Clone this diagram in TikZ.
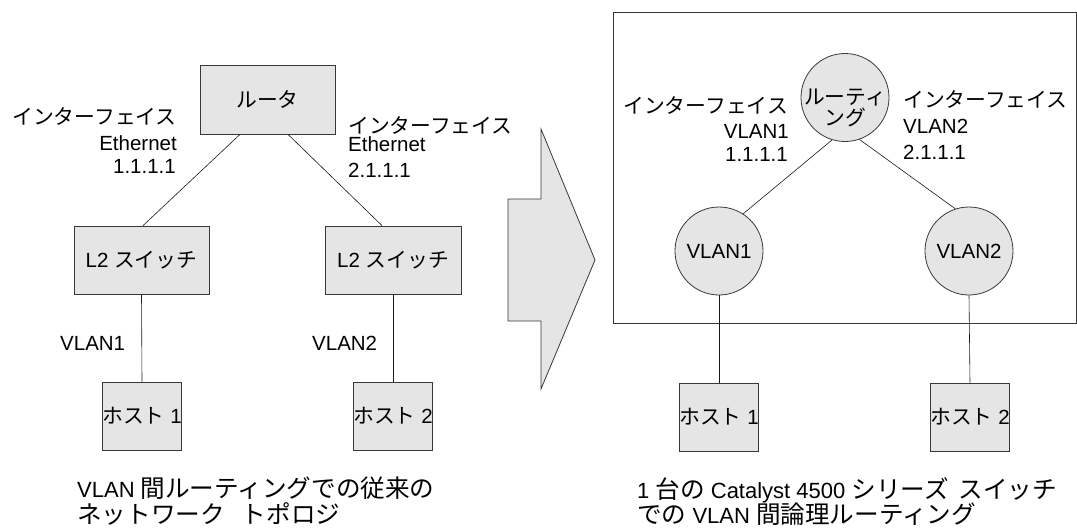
\documentclass[tikz,border=0pt]{standalone}
\usepackage{fontspec}
\setmainfont{Liberation Sans}
\newfontfamily\jpfam{Noto Sans CJK JP}
\newcommand{\jp}{\jpfam\fontsize{20.8}{20.5}\selectfont}
\newcommand{\jpc}{\jpfam\fontsize{24.6}{23}\selectfont}
\newcommand{\lblfont}{\fontsize{20.5}{20.5}\selectfont}
\newcommand{\capfont}{\fontsize{22}{23}\selectfont}
\begin{document}
\begin{tikzpicture}[x=1pt,y=-1pt,
  devbox/.style={draw=black!78, fill=black!10, line width=0.8pt, inner sep=0pt, font=\lblfont},
  circ/.style={circle, draw=black!78, fill=black!10, line width=0.8pt, minimum size=88pt, inner sep=0pt, font=\lblfont},
  wire/.style={draw=black!90, line width=0.6pt},
  frame/.style={draw=black!78, line width=0.8pt, inner sep=0pt},
  lbl/.style={font=\lblfont, inner sep=0pt},
  captxt/.style={font=\capfont, inner sep=0pt, anchor=base west}]
\useasboundingbox (0,0) rectangle (1077,530);

% ---------- left: conventional topology ----------
\node[devbox, minimum width=135pt, minimum height=69pt] (router) at (267.5,99.5) {\jp ルータ};
\node[devbox, minimum width=135pt, minimum height=68pt] (l2a) at (141.5,260) {L2 {\jp スイッチ}};
\node[devbox, minimum width=136pt, minimum height=68pt] (l2b) at (393,260) {L2 {\jp スイッチ}};
\node[devbox, minimum width=78pt, minimum height=68pt] (h1) at (142,416) {{\jp ホスト} 1};
\node[devbox, minimum width=78pt, minimum height=68pt] (h2) at (393,416) {{\jp ホスト} 2};

\draw[wire] ([xshift=-27.5pt]router.south) -- ([xshift=1.5pt]l2a.north);
\draw[wire] ([xshift=20.5pt]router.south) -- ([xshift=-11pt]l2b.north);
\draw[wire] (l2a.south) -- (h1.north);
\draw[wire] (l2b.south) -- (h2.north);

\node[lbl, anchor=base east] (ifl1) at (177,124.5) {\jp インターフェイス};
\node[lbl, anchor=base east] (ifl2) at (177,150.5) {Ethernet};
\node[lbl, anchor=base east] (ifl3) at (176,173.5) {1.1.1.1};
\node[lbl, anchor=base west] (ifr1) at (348,133.5) {\jp インターフェイス};
\node[lbl, anchor=base west] (ifr2) at (348,151) {Ethernet};
\node[lbl, anchor=base west] (ifr3) at (348,177) {2.1.1.1};

\node[lbl, anchor=base west] (vl1) at (60,350.5) {VLAN1};
\node[lbl, anchor=base west] (vl2) at (312,350.5) {VLAN2};

\node[captxt] (capl1) at (77,497) {VLAN {\jpc 間ルーティングでの従来の}};
\node[captxt] (capl2) at (77,523) {{\jpc ネットワーク} \hspace{11pt}{\jpc トポロジ}};

% ---------- arrow ----------
\filldraw[draw=black!78, fill=black!10, line width=0.8pt, line join=miter]
  (508,199) -- (541,199) -- (541,129) -- (595,260) -- (541,389) -- (541,321) -- (508,321) -- cycle;

% ---------- right: logical routing in one switch ----------
\node[frame, minimum width=463pt, minimum height=311pt] (chassis) at (844.5,167.5) {};

\node[circ, label={[inner sep=0pt, font=\jp, align=center, yshift=-10.5pt]center:{ルーティ\\ング}}] (rt) at (845,97.5) {};
\node[circ] (v1) at (719,251) {VLAN1};
\node[circ] (v2) at (969,251) {VLAN2};
\node[devbox, minimum width=78pt, minimum height=68pt] (h3) at (719,417) {{\jp ホスト} 1};
\node[devbox, minimum width=78pt, minimum height=68pt] (h4) at (970,417) {{\jp ホスト} 2};

\draw[wire] (rt.-107) -- (v1.57);
\draw[wire] (rt.-71) -- (v2.108);
\draw[wire] (v1.south) -- (h3.north);
\draw[wire] (v2.south) -- (h4.north);

\node[lbl, anchor=base east] (ivl1) at (788,113.5) {\jp インターフェイス};
\node[lbl, anchor=base east] (ivl2) at (789,138.5) {VLAN1};
\node[lbl, anchor=base east] (ivl3) at (788,161.5) {1.1.1.1};
\node[lbl, anchor=base west] (ivr1) at (903,107.5) {\jp インターフェイス};
\node[lbl, anchor=base west] (ivr2) at (903,133.5) {VLAN2};
\node[lbl, anchor=base west] (ivr3) at (903,159.5) {2.1.1.1};

\node[captxt] (capr1) at (637,498.5) {1 {\jpc 台の} Catalyst 4500 {\jpc シリーズ}\hspace{4pt} {\jpc スイッチ}};
\node[captxt] (capr2) at (637,523) {{\jpc での} VLAN {\jpc 間論理ルーティング}};
\end{tikzpicture}
\end{document}
